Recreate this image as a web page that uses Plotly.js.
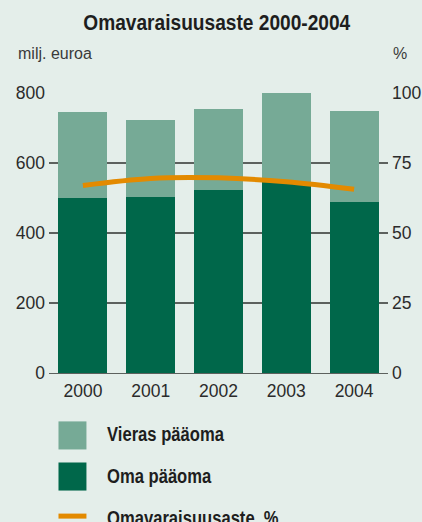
<!DOCTYPE html>
<html>
<head>
<meta charset="utf-8">
<script src="https://cdn.plot.ly/plotly-3.0.1.min.js"></script>
<style>html,body{margin:0;padding:0;background:#E4EEEA;}#chart{width:422px;height:522px;}</style>
</head>
<body>
<div id="chart"></div>
<script>
// ---- data ----
const years = ['2000', '2001', '2002', '2003', '2004'];
const omaPaaoma = [500, 503, 523, 545, 489];        // milj. euroa
const vierasPaaoma = [247, 221, 230, 255, 261];     // milj. euroa
const omavaraisuusaste = [67.0, 69.5, 69.7, 68.3, 65.6]; // %
const leftTicks = [0, 200, 400, 600, 800];
const rightTicks = [0, 25, 50, 75, 100];
const legendLabels = ['Vieras pääoma', 'Oma pääoma', 'Omavaraisuusaste, %'];
const titleText = 'Omavaraisuusaste 2000-2004';
const leftUnit = 'milj. euroa';
const rightUnit = '%';

// ---- style ----
const BG = '#E4EEEA';
const LIGHT = '#76AA96';
const DARK = '#00674A';
const ORANGE = '#E38A00';
const TXT = '#2b2b2b';
const REG = '"Liberation Sans", Arial, sans-serif';

const W = 422, H = 522;
const L = 48.5, R = 388, T = 93.3, B = 372.7;
const px = x => (x - L) / (R - L);
const py = y => (B - y) / (B - T);

const traces = [
  {type: 'bar', x: years, y: omaPaaoma, name: legendLabels[1], marker: {color: DARK, line: {width: 0}}, hoverinfo: 'skip'},
  {type: 'bar', x: years, y: vierasPaaoma, name: legendLabels[0], marker: {color: LIGHT, line: {width: 0}}, hoverinfo: 'skip'},
  {type: 'scatter', mode: 'lines', x: years, y: omavaraisuusaste, yaxis: 'y2', name: legendLabels[2],
   line: {color: ORANGE, width: 5, shape: 'spline', smoothing: 1}, hoverinfo: 'skip'}
];

const legendShapes = [
  {type: 'rect', xref: 'paper', yref: 'paper', x0: px(58), x1: px(86), y0: py(449), y1: py(421), fillcolor: LIGHT, line: {width: 0}},
  {type: 'rect', xref: 'paper', yref: 'paper', x0: px(58), x1: px(86), y0: py(490), y1: py(462), fillcolor: DARK, line: {width: 0}},
  {type: 'rect', xref: 'paper', yref: 'paper', x0: px(58), x1: px(86), y0: py(518), y1: py(513), fillcolor: ORANGE, line: {width: 0}}
];
const legendY = [433, 475, 517];
const legendAnn = legendLabels.map((t, i) => ({
  text: '<b>' + t + '</b>', xref: 'paper', yref: 'paper', x: px(105), y: py(legendY[i]),
  xanchor: 'left', yanchor: 'middle', showarrow: false,
  font: {family: REG, size: 20.5, color: '#1e1e1e'}
}));

const layout = {
  width: W, height: H,
  paper_bgcolor: BG, plot_bgcolor: BG,
  margin: {l: L, r: W - R, t: T, b: H - B, pad: 0},
  showlegend: false,
  barmode: 'stack', bargap: 0.28,
  title: {text: '<b>' + titleText + '</b>', x: px(216.5), xref: 'paper', xanchor: 'center', y: 1 - 22 / H, yanchor: 'middle',
          font: {family: REG, size: 22, color: '#1e1e1e'}},
  xaxis: {type: 'category', range: [-0.5, 4.5], showgrid: false, zeroline: false,
          showline: true, linecolor: '#5c615e', linewidth: 1.3,
          ticks: '', tickfont: {family: REG, size: 17.5, color: TXT}, ticklabelstandoff: 2, fixedrange: true},
  yaxis: {range: [0, 800], tickvals: leftTicks, ticktext: leftTicks.map(String), showgrid: true,
          gridcolor: '#5c615e', gridwidth: 1.3, zeroline: false, showline: false, ticks: '',
          tickfont: {family: REG, size: 17.5, color: TXT}, ticklabelstandoff: 3, fixedrange: true},
  yaxis2: {range: [0, 100], tickvals: rightTicks, ticktext: rightTicks.map(String), overlaying: 'y', side: 'right',
           showgrid: false, zeroline: false, showline: false, ticks: '',
           tickfont: {family: REG, size: 17.5, color: TXT}, ticklabelstandoff: 3, fixedrange: true},
  shapes: legendShapes,
  annotations: [
    {text: leftUnit, xref: 'paper', yref: 'paper', x: px(15), y: py(54), xanchor: 'left', yanchor: 'middle', showarrow: false,
     font: {family: REG, size: 16, color: '#3a3a3a'}},
    {text: rightUnit, xref: 'paper', yref: 'paper', x: px(391), y: py(54), xanchor: 'left', yanchor: 'middle', showarrow: false,
     font: {family: REG, size: 16, color: '#3a3a3a'}}
  ].concat(legendAnn)
};

// horizontally condense a text element around a given anchor (the reference uses a condensed bold face)
function condense(el, s, anchor) {
  const bb = el.getBBox();
  const ax = anchor === 'left' ? bb.x : bb.x + bb.width / 2;
  const prev = el.getAttribute('transform') || '';
  el.setAttribute('transform', prev + ' translate(' + ax + ',0) scale(' + s + ',1) translate(' + (-ax) + ',0)');
}

Plotly.newPlot('chart', traces, layout, {displayModeBar: false, staticPlot: true}).then(gd => {
  const t = gd.querySelector('.gtitle');
  if (t) condense(t, 0.87, 'center');
  gd.querySelectorAll('.annotation-text').forEach(el => {
    if (legendLabels.indexOf(el.textContent) >= 0) condense(el, 0.81, 'left');
  });
});
</script>
</body>
</html>
